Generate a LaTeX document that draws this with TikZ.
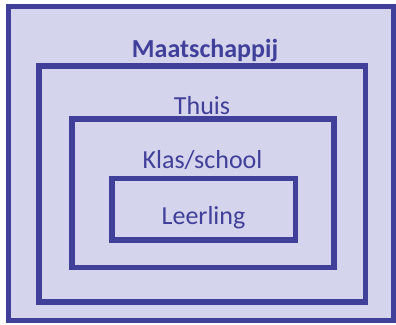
\documentclass[tikz,border=0pt]{standalone}
\usepackage{fontspec}
\setmainfont{Carlito}
\usetikzlibrary{positioning}
\definecolor{ringblue}{RGB}{64,64,154}
\definecolor{ringfill}{RGB}{212,212,236}

\begin{document}
\begin{tikzpicture}[x=1pt, y=-1pt,
    ring/.style={draw=ringblue, fill=ringfill, line width=5.5pt, rectangle, inner sep=0pt},
    ringlabel/.style={text=ringblue, inner sep=0pt, anchor=base, font=\fontsize{26}{30}\selectfont}]
        \useasboundingbox (0,0) rectangle (396,324);

        % ringen van buiten naar binnen
        \node[ring, minimum width=385pt, minimum height=314pt] (maatschappij) at (201,163.5) {};
        \node[ring, minimum width=326.5pt, minimum height=236pt] (thuis) at (202.25,184) {};
        \node[ring, minimum width=262pt, minimum height=148.5pt] (klas) at (203,193.25) {};
        \node[ring, minimum width=183.5pt, minimum height=61.5pt] (leerling) at (203.75,209.25) {};

        % labels
        \node[ringlabel, font=\fontsize{26}{30}\selectfont\bfseries] (maatlabel) at (205,57.3) {Maatschappij};
        \node[ringlabel] (thuislabel) at (202,114.3) {Thuis};
        \node[ringlabel] (klaslabel) at (202.5,168) {Klas/school};
        \node[ringlabel] (leerlinglabel) at (203.5,224) {Leerling};

    \end{tikzpicture}
\end{document}
